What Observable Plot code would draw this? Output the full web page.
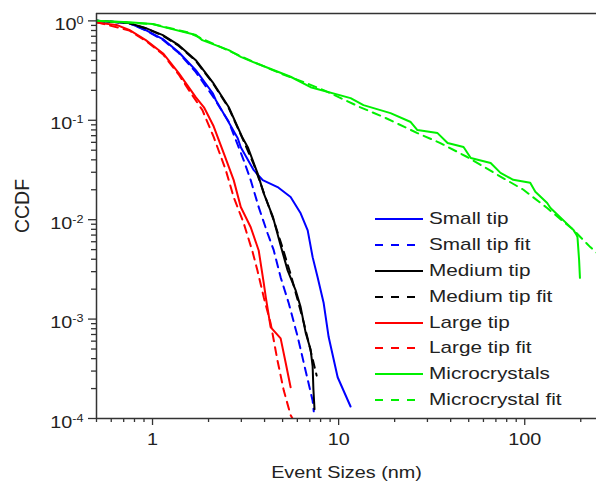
<!DOCTYPE html>
<html>
<head>
<meta charset="utf-8">
<script src="https://cdn.jsdelivr.net/npm/d3@7"></script>
<script src="https://cdn.jsdelivr.net/npm/@observablehq/plot@0.6"></script>
<style>
  html, body { margin: 0; padding: 0; background: #fff; }
  #wrap { position: relative; width: 596px; height: 481px; font-family: "Liberation Sans", Arial, sans-serif; color: #222; }
  #legend { position: absolute; left: 0; top: 0; width: 596px; height: 481px; pointer-events: none; }
  .row { position: absolute; left: 375px; height: 24px; display: flex; align-items: center; white-space: nowrap; }
  .row svg { display: block; }
  .row span { display: inline-block; margin-left: 6px; font-size: 17px; transform: scaleX(1.22); transform-origin: left center; color: #222; }
</style>
</head>
<body>
<div id="wrap"></div>
<script>
// ---- Data ----
const smallTipX = [0.5, 0.746, 0.92, 1.136, 1.384, 1.708, 2.107, 2.19, 2.53, 2.87, 2.98, 3.5, 3.91, 4.7, 5.52, 6.25, 6.82, 7.25, 7.71, 8.31, 8.84, 9.88, 11.59];
const smallTipY = [1.0, 0.95, 0.806, 0.655, 0.484, 0.319, 0.187, 0.159, 0.1, 0.066, 0.0536, 0.0315, 0.025, 0.0213, 0.0169, 0.0116, 0.0078, 0.0042, 0.00263, 0.00145, 0.00066, 0.00026, 0.000132];

const smallFitX = [0.5, 0.746, 0.92, 1.136, 1.384, 1.708, 2.107, 2.565, 3.09, 3.37, 3.72, 4.15, 4.48, 4.88, 5.39, 6.03, 6.65, 7.25, 7.35];
const smallFitY = [1.0, 0.95, 0.80, 0.645, 0.475, 0.305, 0.175, 0.097, 0.0396, 0.025, 0.01336, 0.0073, 0.00493, 0.00263, 0.00145, 0.00066, 0.000301, 0.000151, 0.000118];

const mediumTipX = [0.5, 0.746, 0.921, 1.136, 1.384, 1.708, 2.107, 2.565, 3.05, 3.25, 3.67, 3.96, 4.44, 4.88, 5.32, 5.87, 6.25, 6.65, 7.07, 7.25, 7.32, 7.42];
const mediumTipY = [1.0, 0.95, 0.845, 0.718, 0.57, 0.402, 0.241, 0.136, 0.0662, 0.0536, 0.0292, 0.0184, 0.0106, 0.0055, 0.00309, 0.00196, 0.00132, 0.00073, 0.000494, 0.000334, 0.000196, 0.000124];

const mediumFitX = [0.5, 0.746, 0.921, 1.136, 1.384, 1.708, 2.107, 2.565, 3.05, 3.5, 4.0, 4.5, 5.0, 5.5, 6.0, 6.5, 7.0, 7.62];
const mediumFitY = [1.0, 0.95, 0.84, 0.71, 0.56, 0.395, 0.237, 0.133, 0.065, 0.036, 0.0178, 0.0096, 0.0052, 0.0029, 0.0016, 0.00092, 0.00052, 0.00027];

const largeTipX = [0.5, 0.64, 0.75, 0.92, 1.14, 1.38, 1.71, 1.89, 2.13, 2.41, 2.73, 2.98, 3.37, 3.72, 3.96, 4.06, 4.31, 4.88, 5.2, 5.52];
const largeTipY = [0.96, 0.91, 0.81, 0.64, 0.47, 0.30, 0.17, 0.135, 0.087, 0.047, 0.025, 0.0134, 0.0084, 0.0049, 0.0023, 0.00166, 0.00083, 0.00064, 0.00036, 0.000206];

const largeFitX = [0.5, 0.75, 0.92, 1.14, 1.38, 1.6, 1.854, 2.133, 2.476, 2.73, 3.09, 3.44, 3.66, 3.96, 4.31, 4.69, 5.07, 5.52, 5.65];
const largeFitY = [0.97, 0.80, 0.63, 0.46, 0.29, 0.19, 0.1264, 0.0676, 0.0315, 0.01683, 0.00922, 0.00482, 0.0031, 0.00166, 0.00091, 0.000386, 0.000192, 0.000108, 0.0001];

const microX = [0.5, 0.75, 1.0, 1.14, 1.57, 1.71, 1.85, 2.57, 2.98, 3.45, 5.52, 7.07, 11.6, 13.6, 19.0, 24.4, 26.5, 34.0, 38.5, 46.9, 51.3, 65.6, 74.1, 86.7, 107, 114, 132, 137.5, 182.6, 189.9, 192, 196, 198];
const microY = [1.0, 0.97, 0.93, 0.87, 0.75, 0.72, 0.64, 0.507, 0.434, 0.387, 0.274, 0.215, 0.167, 0.142, 0.118, 0.096, 0.0797, 0.0743, 0.059, 0.0538, 0.0418, 0.0372, 0.0296, 0.0252, 0.0235, 0.0191, 0.0147, 0.0131, 0.0079, 0.0070, 0.0067, 0.0039, 0.0026];

const microFitX = [0.5, 1.0, 1.57, 2.57, 3.45, 5.0, 6.5, 8.3, 13.1, 17.4, 26.5, 35.2, 49.1, 71.3, 98.4, 132, 182.6, 225, 245];
const microFitY = [1.0, 0.93, 0.76, 0.50, 0.39, 0.29, 0.242, 0.201, 0.135, 0.108, 0.0743, 0.059, 0.0427, 0.0283, 0.020, 0.0131, 0.0079, 0.0053, 0.0046];

const seriesNames = ["Small tip", "Small tip fit", "Medium tip", "Medium tip fit", "Large tip", "Large tip fit", "Microcrystals", "Microcrystal fit"];

// tick values
const xMajorTicks = [1, 10, 100];
const xMinorTicks = [0.5, 0.6, 0.7, 0.8, 0.9, 2, 3, 4, 5, 6, 7, 8, 9, 20, 30, 40, 50, 60, 70, 80, 90, 200];
const yMajorTicks = [1e-4, 1e-3, 1e-2, 1e-1, 1];
const yMinorTicks = [];
for (const d of [1e-4, 1e-3, 1e-2, 1e-1]) for (let k = 2; k <= 9; k++) yMinorTicks.push(+(d * k).toPrecision(3));

// ---- styles ----
const colors = ["#0000ff", "#0000ff", "#000000", "#000000", "#ff0000", "#ff0000", "#00f000", "#00f000"];
const dashed = [false, true, false, true, false, true, false, true];
const seriesData = [
  [smallTipX, smallTipY], [smallFitX, smallFitY],
  [mediumTipX, mediumTipY], [mediumFitX, mediumFitY],
  [largeTipX, largeTipY], [largeFitX, largeFitY],
  [microX, microY], [microFitX, microFitY]
];
const rows = seriesData.map(([xs, ys], i) => xs.map((x, j) => ({x, y: ys[j], s: seriesNames[i]})));

const axisColor = "#333";
const lineMarks = rows.map((r, i) => Plot.line(r, {
  x: "x", y: "y", stroke: colors[i], strokeWidth: 2,
  strokeDasharray: dashed[i] ? "8,6" : null, clip: true
}));

const yMin = 1e-4, yMax = 1.186, xMin = 0.5, xMax = 243;

const svg = Plot.plot({
  width: 596, height: 481,
  marginLeft: 96, marginRight: 0, marginTop: 13, marginBottom: 63,
  style: {fontFamily: '"Liberation Sans", Arial, sans-serif', fontSize: "16.5px", color: "#222", background: "#fff", overflow: "visible"},
  x: {type: "log", domain: [xMin, xMax]},
  y: {type: "log", domain: [yMin, yMax]},
  marks: [
    ...lineMarks,
    Plot.axisX({ticks: xMinorTicks, tickSize: 4, tickFormat: () => "", label: null, stroke: axisColor, strokeWidth: 1.3}),
    Plot.axisX({ticks: xMajorTicks, tickSize: 7, tickPadding: 8, tickFormat: d => String(d), stroke: axisColor, strokeWidth: 1.3,
      label: "Event Sizes (nm)", labelAnchor: "center", labelOffset: 59, labelArrow: false}),
    Plot.axisY({ticks: yMinorTicks, tickSize: 5, tickFormat: () => "", label: null, stroke: axisColor, strokeWidth: 1.3}),
    Plot.axisY({ticks: yMajorTicks, tickSize: 8, tickPadding: 5, tickFormat: d => "10^" + Math.round(Math.log10(d)), stroke: axisColor, strokeWidth: 1.3, label: null}),
    Plot.axisY({ticks: [], label: "CCDF", labelAnchor: "center", labelOffset: 81, fontSize: 19.5, labelArrow: false}),
    Plot.ruleX([xMin], {stroke: axisColor, strokeWidth: 1.5}),
    Plot.ruleY([yMin], {stroke: axisColor, strokeWidth: 1.5}),
    Plot.ruleY([yMax], {stroke: axisColor, strokeWidth: 1.5})
  ]
});

const wrap = document.getElementById("wrap");
wrap.append(svg);

// superscript exponents on y tick labels
const ns = "http://www.w3.org/2000/svg";
svg.querySelectorAll("text").forEach(t => {
  const s = t.textContent;
  if (s.startsWith("10^")) {
    const e = s.slice(3);
    t.textContent = "10";
    t.setAttribute("y", "0.55em");
    const ts = document.createElementNS(ns, "tspan");
    ts.setAttribute("dy", "-6");
    ts.setAttribute("font-size", "10.5");
    ts.textContent = e;
    t.append(ts);
  }
});
// horizontal stretch like reference typography
svg.querySelectorAll("text").forEach(t => {
  if (t.textContent === "CCDF") {
    const tr = t.getAttribute("transform") || "";
    t.setAttribute("transform", "translate(0,-10) " + tr);
    return;
  }
  const L = t.getComputedTextLength();
  if (L > 0) {
    t.setAttribute("textLength", (L * 1.2).toFixed(2));
    t.setAttribute("lengthAdjust", "spacingAndGlyphs");
  }
});

// legend
const legend = document.createElement("div");
legend.id = "legend";
seriesNames.forEach((name, i) => {
  const row = document.createElement("div");
  row.className = "row";
  row.style.top = (219.3 + i * 25.8 - 12) + "px";
  const ls = document.createElementNS(ns, "svg");
  ls.setAttribute("width", "48"); ls.setAttribute("height", "24");
  const ln = document.createElementNS(ns, "line");
  ln.setAttribute("x1", "0"); ln.setAttribute("x2", "48");
  ln.setAttribute("y1", "12"); ln.setAttribute("y2", "12");
  ln.setAttribute("stroke", colors[i]); ln.setAttribute("stroke-width", "2");
  if (dashed[i]) ln.setAttribute("stroke-dasharray", "8,8");
  ls.append(ln);
  const sp = document.createElement("span");
  sp.textContent = name;
  row.append(ls, sp);
  legend.append(row);
});
wrap.append(legend);
</script>
</body>
</html>
